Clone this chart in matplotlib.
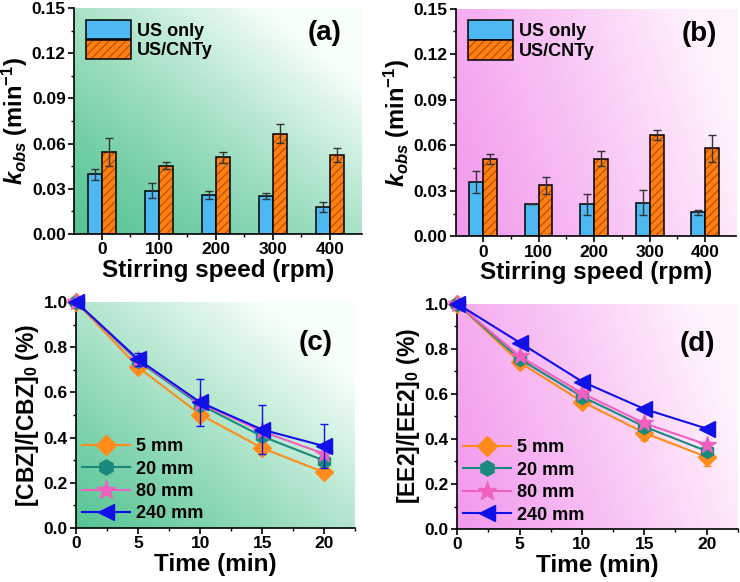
import numpy as np
import matplotlib
matplotlib.use("Agg")
import matplotlib.pyplot as plt
from matplotlib.patches import Patch
from matplotlib.lines import Line2D
from matplotlib.ticker import MultipleLocator, FixedLocator

plt.rcParams['font.family'] = ['Liberation Sans', 'DejaVu Sans']
plt.rcParams['font.weight'] = 'bold'
plt.rcParams['mathtext.fontset'] = 'custom'
plt.rcParams['mathtext.rm'] = 'Liberation Sans:bold'
plt.rcParams['mathtext.it'] = 'Liberation Sans:bold:italic'
plt.rcParams['mathtext.bf'] = 'Liberation Sans:bold'
plt.rcParams['hatch.linewidth'] = 0.9

# ---- data ----
speeds = ['0', '100', '200', '300', '400']

a_us = [0.0395, 0.0288, 0.0258, 0.0252, 0.0177]
a_us_err = [0.0035, 0.0050, 0.0026, 0.0018, 0.0033]
a_cnt = [0.0545, 0.0454, 0.0508, 0.0667, 0.0523]
a_cnt_err = [0.0092, 0.0025, 0.0036, 0.0063, 0.0047]

b_us = [0.0358, 0.0213, 0.0210, 0.0222, 0.0157]
b_us_err = [0.0070, 0.0003, 0.0072, 0.0080, 0.0019]
b_cnt = [0.0508, 0.0336, 0.0512, 0.0667, 0.0579]
b_cnt_err = [0.0032, 0.0055, 0.0048, 0.0033, 0.0088]

time = [0, 5, 10, 15, 20]
labels = ['5 mm', '20 mm', '80 mm', '240 mm']

c_vals = [[1.0, 0.711, 0.502, 0.353, 0.246],
          [1.0, 0.738, 0.545, 0.405, 0.298],
          [1.0, 0.742, 0.552, 0.427, 0.328],
          [1.0, 0.746, 0.556, 0.435, 0.362]]
c_err = [[0.0, 0.010, 0.010, 0.015, 0.010],
         [0.0, 0.010, 0.010, 0.015, 0.015],
         [0.0, 0.010, 0.010, 0.012, 0.012],
         [0.0, 0.030, 0.105, 0.110, 0.096]]

d_vals = [[1.0, 0.740, 0.566, 0.427, 0.320],
          [1.0, 0.755, 0.588, 0.455, 0.346],
          [1.0, 0.768, 0.603, 0.470, 0.375],
          [1.0, 0.828, 0.655, 0.533, 0.446]]
d_err = [[0.0, 0.012, 0.012, 0.030, 0.042],
         [0.0, 0.010, 0.010, 0.012, 0.012],
         [0.0, 0.010, 0.010, 0.010, 0.012],
         [0.0, 0.008, 0.008, 0.008, 0.008]]

line_colors = ['#ff8c1a', '#1a8a7e', '#f060c0', '#1010e8']
markers = ['D', 'h', '*', '<']
msizes = [9, 10, 13, 11]

blue = '#4db8f2'
orange = '#ff7f10'
hatch_col = '#b85200'


def gradient(ax, c0, c1, wx, wy, power):
    n = 200
    x = np.linspace(0, 1, n)
    X, Y = np.meshgrid(x, x)
    t = np.clip(wx * X + wy * Y, 0, 1) ** power
    c0 = np.array(c0)
    c1 = np.array(c1)
    img = c0[None, None, :] * (1 - t[..., None]) + c1[None, None, :] * t[..., None]
    ax.imshow(img, extent=[0, 1, 0, 1], transform=ax.transAxes, origin='lower',
              aspect='auto', zorder=0, interpolation='bilinear')


def style_axes(ax):
    ax.spines['top'].set_visible(False)
    ax.spines['right'].set_visible(False)
    ax.spines['left'].set_linewidth(1.2)
    ax.spines['bottom'].set_linewidth(1.2)
    ax.tick_params(which='major', direction='out', length=4, width=1.2,
                   labelsize=12.5, pad=2)
    ax.tick_params(which='minor', direction='out', length=2.5, width=1)
    for lab in ax.get_xticklabels() + ax.get_yticklabels():
        lab.set_fontweight('bold')


def bar_panel(ax, us, us_err, cnt, cnt_err, tag, bg0, bg1, wx, wy, pw):
    gradient(ax, bg0, bg1, wx, wy, pw)
    x = np.arange(len(speeds))
    w = 0.25
    ax.bar(x - w / 2, us, w, color=blue, edgecolor='black', linewidth=1.1, zorder=2)
    ax.errorbar(x - w / 2, us, yerr=us_err, fmt='none', ecolor='#333333',
                elinewidth=1, capsize=3, capthick=1, zorder=3)
    ax.bar(x + w / 2, cnt, w, color=orange, edgecolor=hatch_col, linewidth=0,
           hatch='////', zorder=2)
    ax.bar(x + w / 2, cnt, w, fill=False, edgecolor='black', linewidth=1.1, zorder=2)
    ax.errorbar(x + w / 2, cnt, yerr=cnt_err, fmt='none', ecolor='#333333',
                elinewidth=1, capsize=3, capthick=1, zorder=3)
    ax.set_xlim(-0.49, 4.56)
    ax.set_ylim(0, 0.15)
    ax.set_xticks(x)
    ax.set_xticklabels(speeds)
    ax.xaxis.set_minor_locator(FixedLocator([0.5, 1.5, 2.5, 3.5]))
    ax.yaxis.set_major_locator(MultipleLocator(0.03))
    ax.yaxis.set_minor_locator(MultipleLocator(0.015))
    ax.set_yticklabels([f'{v:.2f}' for v in ax.get_yticks()])
    ax.tick_params(axis='x', which='major', length=0, pad=5)
    style_axes(ax)
    ax.set_xlabel('Stirring speed (rpm)', fontsize=17.5, fontweight='bold', labelpad=1)
    ax.set_ylabel(r'$k_{obs}$ (min$^{-1}$)', fontsize=17, fontweight='bold', labelpad=1)
    h1 = Patch(facecolor=blue, edgecolor='black', linewidth=1.1)
    h2a = Patch(facecolor=orange, edgecolor=hatch_col, hatch='////', linewidth=0)
    h2b = Patch(fill=False, edgecolor='black', linewidth=1.1)
    ax.legend([h1, (h2a, h2b)], ['US only', 'US/CNTy'], loc='upper left',
              frameon=False, handlelength=2.5, handleheight=1.25,
              labelspacing=0.02, handletextpad=0.35, borderaxespad=0.25,
              prop={'weight': 'bold', 'size': 13})
    ax.text(0.93, 0.89, tag, transform=ax.transAxes, fontsize=20,
            fontweight='bold', ha='right', va='center')


def line_panel(ax, vals, errs, ylabel, tag, bg0, bg1, wx, wy, pw):
    gradient(ax, bg0, bg1, wx, wy, pw)
    handles = []
    for i in range(len(labels)):
        ax.errorbar(time, vals[i], yerr=errs[i], color=line_colors[i],
                    marker=markers[i], markersize=msizes[i], linewidth=1.5,
                    elinewidth=1, capsize=3, capthick=1,
                    zorder=3 + i, clip_on=False)
        handles.append(Line2D([], [], color=line_colors[i], marker=markers[i],
                              markersize=msizes[i] + 1, linewidth=1.5))
    ax.set_xlim(0, 22.5)
    ax.set_ylim(0, 1.0)
    ax.xaxis.set_major_locator(MultipleLocator(5))
    ax.xaxis.set_minor_locator(MultipleLocator(2.5))
    ax.yaxis.set_major_locator(MultipleLocator(0.2))
    ax.yaxis.set_minor_locator(MultipleLocator(0.1))
    ax.set_yticklabels([f'{v:.1f}' for v in ax.get_yticks()])
    style_axes(ax)
    ax.set_xlabel('Time (min)', fontsize=17.5, fontweight='bold', labelpad=1)
    ax.set_ylabel(ylabel, fontsize=16.5, fontweight='bold', labelpad=2)
    ax.legend(handles, labels, loc='lower left', frameon=False, handlelength=2.7,
              handletextpad=0.3, labelspacing=0.3, borderaxespad=0.0,
              borderpad=0.3, prop={'weight': 'bold', 'size': 13})
    ax.text(0.92, 0.82, tag, transform=ax.transAxes, fontsize=20,
            fontweight='bold', ha='right', va='center')


fig = plt.figure(figsize=(7.4, 5.82), dpi=100)
ax_a = fig.add_axes([0.100, 0.598, 0.389, 0.388])
ax_b = fig.add_axes([0.616, 0.594, 0.379, 0.391])
ax_c = fig.add_axes([0.103, 0.093, 0.377, 0.388])
ax_d = fig.add_axes([0.618, 0.091, 0.379, 0.387])

green0 = (0.34, 0.77, 0.58)
green1 = (0.97, 1.0, 0.98)
pink0 = (0.95, 0.60, 0.93)
pink1 = (1.0, 0.95, 0.99)

bar_panel(ax_a, a_us, a_us_err, a_cnt, a_cnt_err, '(a)', green0, green1, 0.6, 0.6, 1.3)
bar_panel(ax_b, b_us, b_us_err, b_cnt, b_cnt_err, '(b)', pink0, pink1, 0.9, 0.25, 1.1)
line_panel(ax_c, c_vals, c_err, r'[CBZ]/[CBZ]$_0$ (%)', '(c)', green0, green1, 0.6, 0.6, 1.1)
line_panel(ax_d, d_vals, d_err, r'[EE2]/[EE2]$_0$ (%)', '(d)', pink0, pink1, 0.9, 0.25, 1.1)

fig.savefig('out.png', dpi=100)
